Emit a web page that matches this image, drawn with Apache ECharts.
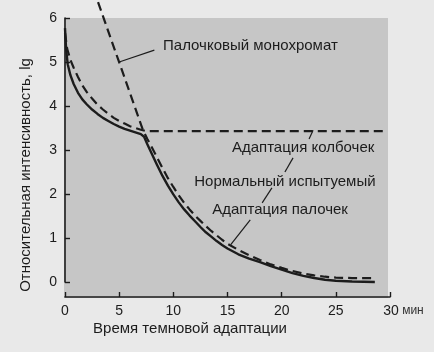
<!DOCTYPE html>
<html><head><meta charset="utf-8">
<script src="https://cdn.jsdelivr.net/npm/echarts@6/dist/echarts.min.js"></script>
<style>html,body{margin:0;padding:0;background:#e9e9e9;}#c{width:434px;height:352px;}</style>
</head><body><div id="c"></div>
<script>
// ---- data (minutes, log relative intensity) ----
var normalX = [0, 0.1, 0.25, 0.5, 0.8, 1.2, 1.6, 2.0, 2.5, 3.0, 3.5, 4.0, 4.5, 5.0, 5.5, 6.0, 6.5, 7.0, 7.3, 7.6, 8.0, 8.5, 9.0, 9.5, 10.0, 10.5, 11.0, 11.5, 12.0, 12.5, 13.0, 13.5, 14.0, 14.5, 15.0, 16.0, 17.0, 18.0, 19.0, 20.0, 21.0, 22.0, 23.0, 24.0, 25.0, 26.5, 28.6];
var normalY = [5.77, 5.3, 4.95, 4.7, 4.5, 4.3, 4.15, 4.04, 3.92, 3.82, 3.73, 3.66, 3.59, 3.53, 3.48, 3.44, 3.40, 3.36, 3.30, 3.13, 2.92, 2.66, 2.41, 2.19, 1.99, 1.81, 1.65, 1.51, 1.38, 1.25, 1.13, 1.03, 0.93, 0.84, 0.76, 0.63, 0.53, 0.45, 0.36, 0.28, 0.20, 0.14, 0.09, 0.05, 0.03, 0.01, 0.0];
var coneX = [0, 0.2, 0.5, 0.8, 1.2, 1.6, 2.0, 2.5, 3.0, 3.5, 4.0, 4.5, 5.0, 5.5, 6.0, 6.5, 7.0, 7.5, 29.7];
var coneY = [5.66, 5.3, 5.05, 4.87, 4.66, 4.47, 4.32, 4.17, 4.03, 3.92, 3.82, 3.73, 3.66, 3.60, 3.54, 3.50, 3.46, 3.43, 3.43];
var rodX = [3.05, 7.2, 7.6, 8.0, 8.5, 9.0, 9.5, 10.0, 10.5, 11.0, 11.5, 12.0, 12.5, 13.0, 13.5, 14.0, 14.5, 15.0, 16.0, 17.0, 18.0, 19.0, 20.0, 21.0, 22.0, 23.0, 24.0, 25.0, 26.5, 28.6];
var rodY = [6.36, 3.45, 3.25, 3.07, 2.83, 2.59, 2.36, 2.16, 1.97, 1.80, 1.65, 1.51, 1.39, 1.27, 1.16, 1.06, 0.96, 0.87, 0.73, 0.61, 0.50, 0.40, 0.32, 0.25, 0.19, 0.15, 0.12, 0.10, 0.09, 0.09];
var xTickLabels = ['0', '5', '10', '15', '20', '25', '30'];
var yTickLabels = ['0', '1', '2', '3', '4', '5', '6'];
var xUnit = 'мин';
var xTitle = 'Время темновой адаптации';
var yTitle = 'Относительная интенсивность, lg';
// annotations: text, anchor [x,y] in data units
var noteTexts = ['Палочковый монохромат', 'Адаптация колбочек', 'Нормальный испытуемый', 'Адаптация палочек'];
var noteAnchors = [[9.05, 5.36], [21.98, 3.05], [20.3, 2.27], [19.85, 1.64]];
var noteAlign = ['left', 'center', 'center', 'center'];
var leaderLines = [
  [[5.0, 5.0], [8.25, 5.27]],
  [[22.9, 3.45], [22.53, 3.25]],
  [[21.05, 2.82], [20.3, 2.5]],
  [[19.1, 2.14], [18.2, 1.8]],
  [[17.1, 1.41], [15.3, 0.85]]
];

function pairs(xs, ys) { return xs.map(function (x, i) { return [x, ys[i]]; }); }

var FONT = '"Liberation Sans", Arial, sans-serif';
var INK = '#1c1c1c';
var chart = echarts.init(document.getElementById('c'), null, {renderer: 'canvas'});
var option = {
  backgroundColor: '#e9e9e9',
  animation: false,
  grid: {left: 65, right: 44, top: 18, bottom: 70, containLabel: false},
  xAxis: {
    type: 'value', min: 0, max: 30, interval: 5, offset: 15,
    axisLine: {onZero: false, lineStyle: {color: INK, width: 1.6}},
    axisTick: {inside: true, length: 5, lineStyle: {color: INK, width: 1.4}},
    splitLine: {show: false},
    axisLabel: {
      margin: 7, color: INK, fontFamily: FONT, fontSize: 14,
      formatter: function (v) {
        var s = xTickLabels[Math.round(v / 5)];
        if (v === 30) return '{p|}' + s + '{u| ' + xUnit + '}';
        return s;
      },
      rich: {
        p: {width: 27},
        u: {fontSize: 12, color: '#333', fontFamily: FONT}
      }
    }
  },
  yAxis: {
    type: 'value', min: 0, max: 6, interval: 1,
    axisLine: {lineStyle: {color: INK, width: 1.6}},
    axisTick: {inside: true, length: 5, lineStyle: {color: INK, width: 1.4}},
    splitLine: {show: false},
    axisLabel: {margin: 8, color: INK, fontFamily: FONT, fontSize: 14,
      formatter: function (v) { return yTickLabels[Math.round(v)]; }}
  },
  series: [
    {type: 'line', data: pairs(normalX, normalY), smooth: false, showSymbol: false, clip: false,
      lineStyle: {color: INK, width: 2.4, join: 'round'}, z: 3},
    {type: 'line', data: pairs(coneX, coneY), smooth: false, showSymbol: false, clip: false,
      lineStyle: {color: INK, width: 2.2, type: [9, 5]}, z: 3},
    {type: 'line', data: pairs(rodX, rodY), smooth: false, showSymbol: false, clip: false,
      lineStyle: {color: INK, width: 2.2, type: [9, 5]}, z: 3}
  ]
};
chart.setOption(option);

function px(p) { return chart.convertToPixel({xAxisIndex: 0, yAxisIndex: 0}, p); }
var tl = px([0, 6]), br = px([30, 0]);
var els = [];
els.push({type: 'rect', z: -5, silent: true,
  shape: {x: tl[0] - 1, y: tl[1], width: br[0] - tl[0] - 1, height: br[1] - tl[1] + 16},
  style: {fill: '#c6c6c6'}});
leaderLines.forEach(function (ln) {
  var a = px(ln[0]), b = px(ln[1]);
  els.push({type: 'line', z: 5, shape: {x1: a[0], y1: a[1], x2: b[0], y2: b[1]},
    style: {stroke: INK, lineWidth: 1.2}});
});
noteTexts.forEach(function (t, i) {
  var p = px(noteAnchors[i]);
  els.push({type: 'text', z: 6, x: p[0], y: p[1],
    style: {text: t, fill: INK, font: '15px ' + FONT, textAlign: noteAlign[i], textVerticalAlign: 'middle'}});
});
els.push({type: 'text', z: 6, x: 190, y: 329,
  style: {text: xTitle, fill: INK, font: '15px ' + FONT, textAlign: 'center', textVerticalAlign: 'middle'}});
els.push({type: 'text', z: 6, x: 26, y: 175, rotation: Math.PI / 2,
  style: {text: yTitle, fill: INK, font: '15px ' + FONT, textAlign: 'center', textVerticalAlign: 'middle'}});
chart.setOption({graphic: {elements: els}});
</script>
</body></html>
